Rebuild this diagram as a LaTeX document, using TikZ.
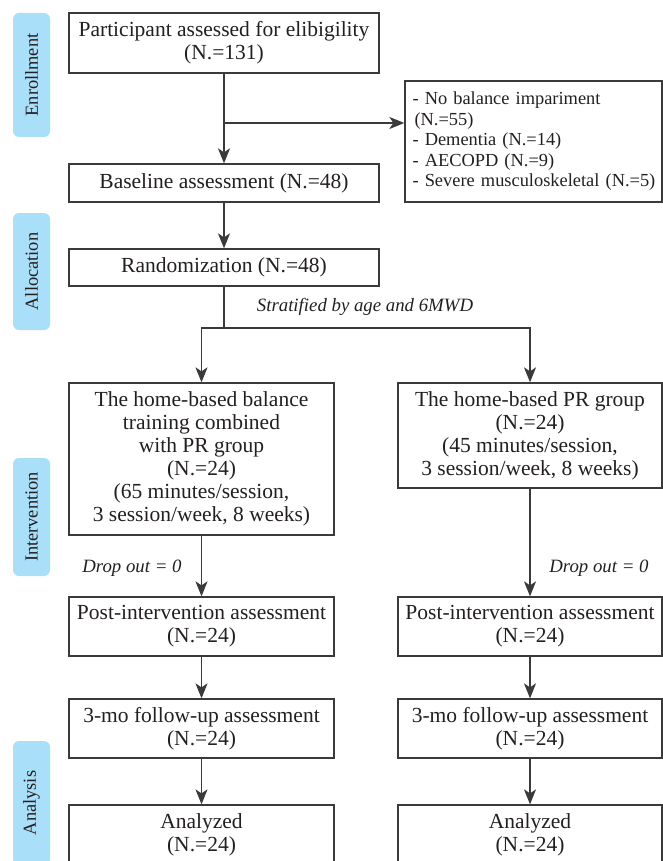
\documentclass[tikz,border=0pt]{standalone}
\usepackage{fontspec}
\setmainfont{Liberation Serif}
\usepackage{tikz}
\usetikzlibrary{positioning, arrows.meta}
\definecolor{tagblue}{HTML}{A9DFF8}
\definecolor{inkgray}{HTML}{231F20}
\definecolor{linegray}{HTML}{3A3A3A}
\tikzset{
  flowbox/.style={
    draw=linegray, text=inkgray, line width=1.3pt,
    align=center, inner sep=0pt, font=\fontsize{21.5}{23}\selectfont
  },
  stagetag/.style={
    fill=tagblue, text=inkgray, rounded corners=6pt, rotate=90,
    minimum height=37pt, inner sep=0pt, font=\fontsize{18.4}{20}\selectfont
  },
  flowarrow/.style={-{Stealth[length=15pt, width=12pt, inset=4pt]}, line width=1.3pt, draw=linegray},
  flowline/.style={line width=1.3pt, draw=linegray},
  notelabel/.style={text=inkgray, font=\fontsize{18.8}{20}\selectfont\itshape}
}

\begin{document}
\begin{tikzpicture}[x=1pt, y=-1pt]
      \path[use as bounding box, clip] (0,0) rectangle (663,861);
      \node[stagetag, minimum width=124pt] (enrol) at (31.5,75) {Enrollment};
      \node[stagetag, minimum width=117pt] (alloc) at (31.5,271.5) {Allocation};
      \node[stagetag, minimum width=118pt] (interv) at (31.5,517) {Intervention};
      \node[stagetag, minimum width=124pt] (analys) at (31.5,803) {Analysis};

      \node[flowbox, minimum width=310pt, minimum height=60pt] (elig) at (224,43) {%
        Participant assessed for elibigility\\(N.=131)};
      \node[flowbox, minimum width=310pt, minimum height=38pt] (base) at (224,183) {%
        Baseline assessment (N.=48)};
      \node[flowbox, align=left, text width=252pt, inner xsep=2.5pt, minimum height=121pt,
        font=\fontsize{18.4}{20.5}\selectfont] (excl) at (533.5,141.5) {%
        \hspace{5pt}- No balance impariment\\
        \hspace{7pt}(N.=55)\\
        \hspace{5pt}- Dementia (N.=14)\\
        \hspace{5pt}- AECOPD (N.=9)\\
        \hspace{5pt}- Severe musculoskeletal (N.=5)};
      \node[flowbox, minimum width=310pt, minimum height=37pt] (rand) at (224,267.5) {%
        Randomization (N.=48)};
      \node[notelabel] (strat) at (365,307) {Stratified by age and 6MWD};

      \node[flowbox, minimum width=265pt, minimum height=152pt] (combo) at (201.5,459) {%
        The home-based balance\\training combined\\with PR group\\(N.=24)\\
        (65 minutes/session,\\3 session/week, 8 weeks)};
      \node[flowbox, minimum width=264pt, minimum height=105pt] (prgrp) at (530,435.5) {%
        The home-based PR group\\(N.=24)\\(45 minutes/session,\\3 session/week, 8 weeks)};

      \node[notelabel] (dropL) at (132,568) {Drop out = 0};
      \node[notelabel] (dropR) at (599,568) {Drop out = 0};

      \node[flowbox, minimum width=265pt, minimum height=59pt] (postL) at (201.5,626.5) {%
        Post-intervention assessment\\(N.=24)};
      \node[flowbox, minimum width=264pt, minimum height=59pt] (postR) at (530,626.5) {%
        Post-intervention assessment\\(N.=24)};
      \node[flowbox, minimum width=265pt, minimum height=59pt] (fuL) at (201.5,728.5) {%
        3-mo follow-up assessment\\(N.=24)};
      \node[flowbox, minimum width=264pt, minimum height=59pt] (fuR) at (530,728.5) {%
        3-mo follow-up assessment\\(N.=24)};
      \node[flowbox, minimum width=265pt, minimum height=60pt] (anaL) at (201.5,835) {%
        Analyzed\\(N.=24)};
      \node[flowbox, minimum width=264pt, minimum height=60pt] (anaR) at (530,835) {%
        Analyzed\\(N.=24)};

      \coordinate (excljoin) at (224,123);
      \coordinate (splitpt) at (224,328);
      \draw[flowarrow] (elig.south) -- (base.north);
      \draw[flowarrow] (excljoin) -- (excljoin -| excl.west);
      \draw[flowarrow] (base.south) -- (rand.north);
      \draw[flowline] (rand.south) -- (splitpt);
      \draw[flowarrow] (splitpt) -| (combo.north);
      \draw[flowarrow] (splitpt) -| (prgrp.north);
      \draw[flowarrow] (combo.south) -- (postL.north);
      \draw[flowarrow] (prgrp.south) -- (postR.north);
      \draw[flowarrow] (postL.south) -- (fuL.north);
      \draw[flowarrow] (postR.south) -- (fuR.north);
      \draw[flowarrow] (fuL.south) -- (anaL.north);
      \draw[flowarrow] (fuR.south) -- (anaR.north);
    \end{tikzpicture}
\end{document}
